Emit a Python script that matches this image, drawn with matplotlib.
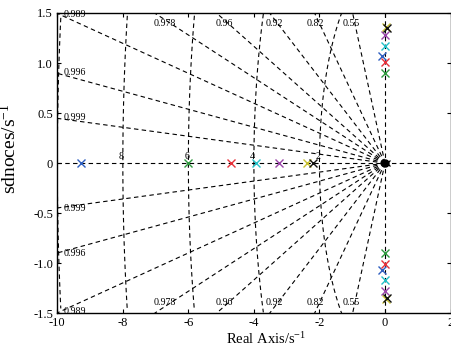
import numpy as np
import matplotlib
matplotlib.use("Agg")
import matplotlib.pyplot as plt

plt.rcParams['font.family'] = ['Liberation Serif', 'DejaVu Serif']
plt.rcParams['mathtext.fontset'] = 'custom'
plt.rcParams['mathtext.rm'] = 'Liberation Serif'
plt.rcParams['mathtext.it'] = 'Liberation Serif:italic'

# ---- data ----
series_colors = ['#2f5fc0', '#2e9a3e', '#e8323a', '#22c0c8', '#9a45a8', '#c8c030', '#101010']
real_poles = [-9.27, -6.0, -4.70, -3.94, -3.23, -2.39, -2.20]
pair_re = [-0.08, 0.0, 0.0, 0.0, 0.0, 0.04, 0.05]
pair_im = [1.07, 0.90, 1.01, 1.17, 1.28, 1.36, 1.35]

zeta_vals = [0.999, 0.996, 0.989, 0.978, 0.96, 0.92, 0.82, 0.55]
zeta_labels = ['0.999', '0.996', '0.989', '0.978', '0.96', '0.92', '0.82', '0.55']
wn_vals = [2, 4, 6, 8, 10]
wn_labels = ['2', '4', '6', '8', '']

xticks = [-10, -8, -6, -4, -2, 0, 2]
xticklabels = ['-10', '-8', '-6', '-4', '-2', '0', '2']
yticks = [-1.5, -1.0, -0.5, 0, 0.5, 1.0, 1.5]
yticklabels = ['-1.5', '-1.0', '-0.5', '0', '0.5', '1.0', '1.5']

xmin, xmax, ymin, ymax = -10, 2, -1.5, 1.5

fig = plt.figure(figsize=(4.52, 3.49), dpi=100)
ax = fig.add_axes([0.1268, 0.1023, 0.8699, 0.8605])
ax.set_xlim(xmin, xmax)
ax.set_ylim(ymin, ymax)

ls = (0, (4, 3))
lw = 0.8
# damping lines
for z in zeta_vals:
    k = np.sqrt(1 - z**2) / z
    x_end = max(xmin, -ymax / k)
    xs = np.array([0, x_end])
    for s in (1, -1):
        ax.plot(xs, s * k * xs, color='k', lw=lw, ls=ls, zorder=1)
# real and imaginary axis lines
ax.plot([xmin, xmax], [0, 0], color='k', lw=lw, ls=ls, zorder=1)
ax.plot([0, 0], [ymin, ymax], color='k', lw=lw, ls=ls, zorder=1)
# natural frequency circles
th = np.linspace(np.pi / 2, 3 * np.pi / 2, 400)
for w in wn_vals:
    cx, cy = w * np.cos(th), w * np.sin(th)
    m = (np.abs(cy) <= ymax + 0.01)
    ax.plot(cx[m], cy[m], color='k', lw=lw, ls=ls, zorder=1)

# zeta labels
fs_g = 7.2
for z, lab in zip(zeta_vals, zeta_labels):
    k = np.sqrt(1 - z**2) / z
    if -ymax / k < xmin:
        yl = min(k * 10, 1.47)
        ax.text(-9.8, yl + 0.01, lab, fontsize=fs_g, ha='left', va='center', zorder=3)
        ax.text(-9.8, -yl - 0.01, lab, fontsize=fs_g, ha='left', va='center', zorder=3)
    else:
        yl = 1.395
        xl = -yl / k + 0.15
        ax.text(xl, yl, lab, fontsize=fs_g, ha='right', va='center', zorder=3)
        ax.text(xl, -yl, lab, fontsize=fs_g, ha='right', va='center', zorder=3)
# wn labels
for w, lab in zip(wn_vals, wn_labels):
    if lab:
        ax.text(-w + 0.02, 0.02, lab, fontsize=fs_g, ha='right', va='bottom', zorder=3)

# poles
for c, rp, pr, pi in zip(series_colors, real_poles, pair_re, pair_im):
    ax.plot([rp, pr, pr], [0, pi, -pi], ls='none', marker='x', color=c,
            markersize=5.5, mew=1.0, zorder=4)
ax.plot([0], [0], ls='none', marker='o', color='k', markersize=5, zorder=4)
ax.plot([0.06], [0], ls='none', marker='x', color='k', markersize=4, mew=0.9, zorder=4)

ax.set_xticks(xticks)
ax.set_xticklabels(xticklabels)
ax.set_yticks(yticks)
ax.set_yticklabels(yticklabels)
ax.tick_params(direction='in', top=True, right=True, labelsize=9, length=3, width=0.8, pad=3)
for sp in ax.spines.values():
    sp.set_linewidth(1.0)

ax.set_xlabel('Real Axis/s$^{-1}$', fontsize=10.5)
ax.xaxis.set_label_coords(0.53, -0.06)
ax.set_ylabel('sdnoces/s$^{-1}$', fontsize=14)
ax.yaxis.set_label_coords(-0.095, 0.547)

fig.savefig('out.png', dpi=100)
